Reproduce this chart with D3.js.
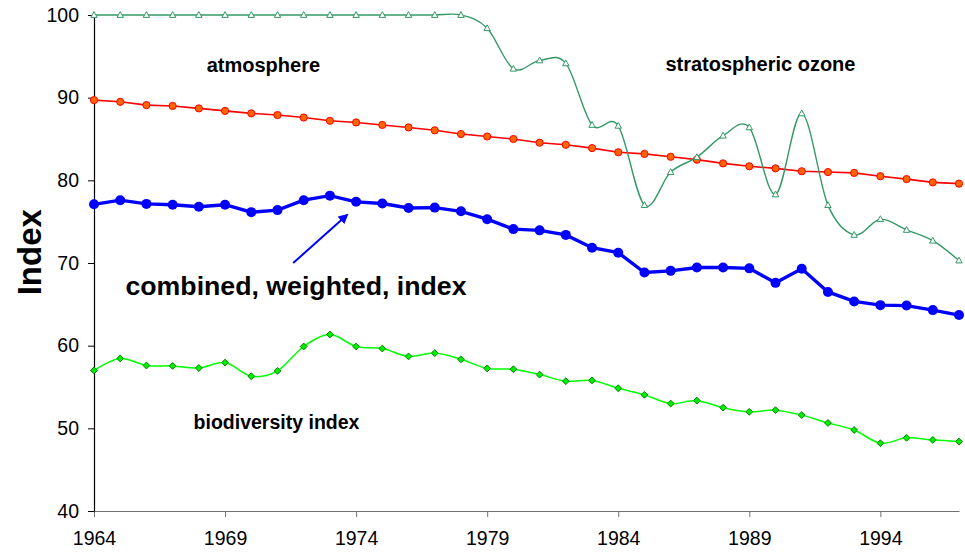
<!DOCTYPE html>
<html>
<head>
<meta charset="utf-8">
<script src="https://cdn.jsdelivr.net/npm/d3@7/dist/d3.min.js"></script>
<style>
  body { margin: 0; background: #fff; }
  #graphicContainer { width: 965px; height: 552px; }
  text { font-family: Arial, "Liberation Sans", sans-serif; }
</style>
</head>
<body>
<div id="graphicContainer"></div>
<script>
// values (index, 1964 - 1997)
var years = [1964, 1965, 1966, 1967, 1968, 1969, 1970, 1971, 1972, 1973, 1974, 1975,
	1976, 1977, 1978, 1979, 1980, 1981, 1982, 1983, 1984, 1985, 1986, 1987,
	1988, 1989, 1990, 1991, 1992, 1993, 1994, 1995, 1996, 1997];

var xTickYears = [1964, 1969, 1974, 1979, 1984, 1989, 1994];
var yTicks = [40, 50, 60, 70, 80, 90, 100];

var ozone = [100, 100, 100, 100, 100, 100, 100, 100, 100, 100, 100, 100,
	100, 100, 100, 98.4, 93.5, 94.5, 94.15, 86.7, 86.6, 77.0, 81.0, 82.8,
	85.4, 86.4, 78.3, 88.1, 77.0, 73.4, 75.3, 74.0, 72.7, 70.3];

var atmosphere = [89.7, 89.5, 89.1, 89.0, 88.7, 88.4, 88.1, 87.9, 87.6, 87.2, 87.0, 86.7,
	86.4, 86.05, 85.6, 85.3, 85.0, 84.55, 84.3, 83.9, 83.4, 83.2, 82.85, 82.5,
	82.05, 81.7, 81.45, 81.1, 81.0, 80.9, 80.5, 80.15, 79.75, 79.6];

var combined = [77.1, 77.6, 77.15, 77.05, 76.8, 77.05, 76.15, 76.4, 77.6, 78.15, 77.4, 77.2,
	76.65, 76.7, 76.25, 75.3, 74.1, 73.95, 73.4, 71.85, 71.25, 68.85, 69.05, 69.45,
	69.45, 69.35, 67.6, 69.3, 66.5, 65.35, 64.9, 64.85, 64.3, 63.7];

var biodiversity = [57.0, 58.45, 57.6, 57.55, 57.3, 57.95, 56.3, 56.95, 59.9, 61.35, 59.9, 59.65,
	58.7, 59.1, 58.35, 57.25, 57.15, 56.5, 55.7, 55.8, 54.85, 54.05, 53.0, 53.35,
	52.5, 52.0, 52.2, 51.6, 50.65, 49.8, 48.2, 48.85, 48.6, 48.4];

var labels = [
	{text: "atmosphere", year: 1968.3, value: 93.1, size: 20},
	{text: "stratospheric ozone", year: 1985.8, value: 93.2, size: 20},
	{text: "combined, weighted, index", year: 1965.2, value: 66.1, size: 26.7},
	{text: "biodiversity index", year: 1967.8, value: 49.9, size: 19.5}
];

function makeChart() {

	var width = 965, height = 552;
	var margin = {top: 15, right: 6, bottom: 41, left: 94};

	var x = d3.scaleLinear()
		.domain([1964, 1997])
		.range([margin.left, width - margin.right]);

	var y = d3.scaleLinear()
		.domain([40, 100])
		.range([height - margin.bottom, margin.top]);

	d3.select("#graphicContainer svg").remove();

	var svg = d3.select("#graphicContainer").append("svg")
		.attr("width", width)
		.attr("height", height);

	svg.append("defs").append("marker")
		.attr("id", "arrow")
		.attr("viewBox", "0 0 10 10")
		.attr("refX", 8)
		.attr("refY", 5)
		.attr("markerWidth", 5)
		.attr("markerHeight", 5)
		.attr("orient", "auto")
		.append("path")
		.attr("d", "M0,0L10,5L0,10z")
		.attr("fill", "#0000ff");

	// axes
	var xAxis = svg.append("g")
		.attr("transform", "translate(0," + y(40) + ")")
		.call(d3.axisBottom(x).tickValues(xTickYears).tickFormat(d3.format("d"))
			.tickSize(6).tickSizeOuter(0).tickPadding(14));

	xAxis.select(".domain").attr("stroke", "#707070").attr("stroke-width", 1.2);
	xAxis.selectAll(".tick line").attr("stroke", "#707070");
	xAxis.selectAll("text").attr("font-size", 19.5).attr("font-family", "Arial, 'Liberation Sans', sans-serif").attr("fill", "#000");

	var yAxis = svg.append("g")
		.attr("transform", "translate(" + x(1964) + ",0)")
		.call(d3.axisLeft(y).tickValues(yTicks)
			.tickSize(6).tickSizeOuter(0).tickPadding(9));

	yAxis.select(".domain").attr("stroke", "#000").attr("stroke-width", 1.2);
	yAxis.selectAll("text").attr("font-size", 19.5).attr("font-family", "Arial, 'Liberation Sans', sans-serif").attr("fill", "#000");

	svg.append("text")
		.attr("transform", "translate(41," + y(71.3) + ") rotate(-90)")
		.attr("text-anchor", "middle")
		.attr("font-size", 33)
		.attr("font-weight", "bold")
		.text("Index");

	var straight = d3.line()
		.x((d, i) => x(years[i]))
		.y(d => y(d));

	var smooth = d3.line()
		.x((d, i) => x(years[i]))
		.y(d => y(d))
		.curve(d3.curveCardinal.tension(0));

	// atmosphere
	svg.append("path")
		.datum(atmosphere)
		.attr("d", straight)
		.attr("fill", "none")
		.attr("stroke", "#ff0000")
		.attr("stroke-width", 1.6);

	svg.append("g").selectAll("circle")
		.data(atmosphere)
		.enter().append("circle")
		.attr("cx", (d, i) => x(years[i]))
		.attr("cy", d => y(d))
		.attr("r", 3.6)
		.attr("fill", "#ff6600")
		.attr("stroke", "#ff0000")
		.attr("stroke-width", 1);

	// stratospheric ozone
	svg.append("path")
		.datum(ozone)
		.attr("d", smooth)
		.attr("fill", "none")
		.attr("stroke", "#339966")
		.attr("stroke-width", 1.4);

	svg.append("g").selectAll("path")
		.data(ozone)
		.enter().append("path")
		.attr("transform", (d, i) => "translate(" + x(years[i]) + "," + y(d) + ")")
		.attr("d", "M0,-3.4L3.2,2.4L-3.2,2.4Z")
		.attr("fill", "#fff")
		.attr("stroke", "#339966")
		.attr("stroke-width", 1);

	// combined index
	svg.append("path")
		.datum(combined)
		.attr("d", straight)
		.attr("fill", "none")
		.attr("stroke", "#0000ff")
		.attr("stroke-width", 3.4);

	svg.append("g").selectAll("circle")
		.data(combined)
		.enter().append("circle")
		.attr("cx", (d, i) => x(years[i]))
		.attr("cy", d => y(d))
		.attr("r", 5)
		.attr("fill", "#0000ff");

	// biodiversity
	svg.append("path")
		.datum(biodiversity)
		.attr("d", smooth)
		.attr("fill", "none")
		.attr("stroke", "#00ff00")
		.attr("stroke-width", 1.5);

	svg.append("g").selectAll("path")
		.data(biodiversity)
		.enter().append("path")
		.attr("transform", (d, i) => "translate(" + x(years[i]) + "," + y(d) + ")")
		.attr("d", "M0,-3.4L3.4,0L0,3.4L-3.4,0Z")
		.attr("fill", "#00ee00")
		.attr("stroke", "#008000")
		.attr("stroke-width", 1);

	// text labels
	svg.append("g").selectAll("text")
		.data(labels)
		.enter().append("text")
		.attr("x", d => x(d.year))
		.attr("y", d => y(d.value))
		.attr("font-size", d => d.size)
		.attr("font-weight", "bold")
		.attr("fill", "#000")
		.text(d => d.text);

	// arrow to the combined line
	svg.append("line")
		.attr("x1", x(1971.6))
		.attr("y1", y(70.0))
		.attr("x2", x(1973.65))
		.attr("y2", y(75.8))
		.attr("stroke", "#0000ff")
		.attr("stroke-width", 2)
		.attr("marker-end", "url(#arrow)");
}

makeChart();
</script>
</body>
</html>
